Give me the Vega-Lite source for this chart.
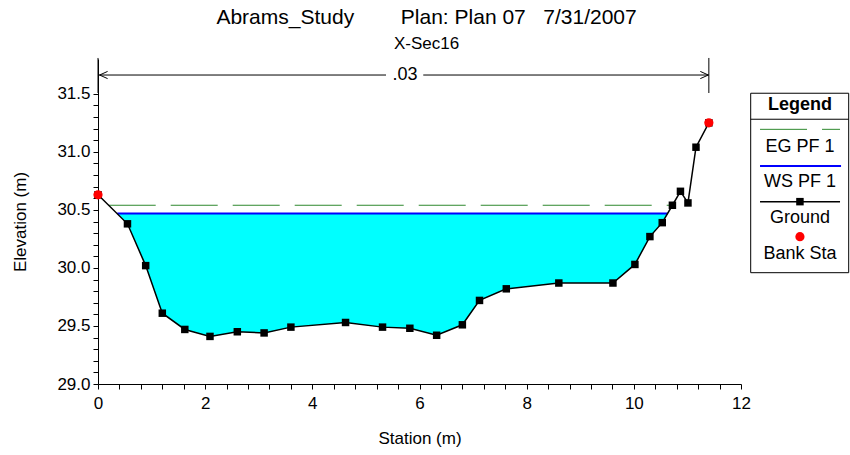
{
  "$schema": "https://vega.github.io/schema/vega-lite/v6.json",
  "width": 643,
  "height": 325,
  "autosize": {"type": "none"},
  "padding": {"left": 98, "top": 59, "right": 109, "bottom": 71},
  "background": "white",
  "config": {
    "view": {"stroke": null},
    "font": "Liberation Sans",
    "text": {"font": "Liberation Sans", "color": "black"}
  },
  "title": {
    "text": "Abrams_Study\u00a0\u00a0\u00a0\u00a0\u00a0\u00a0\u00a0\u00a0Plan: Plan 07\u00a0\u00a0\u00a07/31/2007",
    "subtitle": "X-Sec16",
    "font": "Liberation Sans",
    "subtitleFont": "Liberation Sans",
    "fontSize": 21,
    "subtitleFontSize": 17,
    "fontWeight": "normal",
    "color": "black",
    "subtitleColor": "black",
    "anchor": "middle",
    "frame": "bounds",
    "offset": 2,
    "dy": -3,
    "subtitlePadding": 8,
    "dx": -4
  },
  "datasets": {
    "ground": [
      {"station": 0.0, "elev": 30.63}, {"station": 0.55, "elev": 30.38}, {"station": 0.89, "elev": 30.02},
      {"station": 1.2, "elev": 29.61}, {"station": 1.62, "elev": 29.47}, {"station": 2.09, "elev": 29.41},
      {"station": 2.6, "elev": 29.45}, {"station": 3.1, "elev": 29.44}, {"station": 3.6, "elev": 29.49},
      {"station": 4.62, "elev": 29.53}, {"station": 5.31, "elev": 29.49}, {"station": 5.82, "elev": 29.48},
      {"station": 6.32, "elev": 29.42}, {"station": 6.8, "elev": 29.51}, {"station": 7.12, "elev": 29.72},
      {"station": 7.62, "elev": 29.82}, {"station": 8.6, "elev": 29.87}, {"station": 9.61, "elev": 29.87},
      {"station": 10.02, "elev": 30.03}, {"station": 10.3, "elev": 30.27}, {"station": 10.53, "elev": 30.39},
      {"station": 10.72, "elev": 30.54}, {"station": 10.87, "elev": 30.66}, {"station": 11.01, "elev": 30.56},
      {"station": 11.16, "elev": 31.04}, {"station": 11.4, "elev": 31.25}
    ],
    "water": [
      {"station": 0.36, "elev": 30.47, "ws": 30.47}, {"station": 0.55, "elev": 30.38, "ws": 30.47},
      {"station": 0.89, "elev": 30.02, "ws": 30.47}, {"station": 1.2, "elev": 29.61, "ws": 30.47},
      {"station": 1.62, "elev": 29.47, "ws": 30.47}, {"station": 2.09, "elev": 29.41, "ws": 30.47},
      {"station": 2.6, "elev": 29.45, "ws": 30.47}, {"station": 3.1, "elev": 29.44, "ws": 30.47},
      {"station": 3.6, "elev": 29.49, "ws": 30.47}, {"station": 4.62, "elev": 29.53, "ws": 30.47},
      {"station": 5.31, "elev": 29.49, "ws": 30.47}, {"station": 5.82, "elev": 29.48, "ws": 30.47},
      {"station": 6.32, "elev": 29.42, "ws": 30.47}, {"station": 6.8, "elev": 29.51, "ws": 30.47},
      {"station": 7.12, "elev": 29.72, "ws": 30.47}, {"station": 7.62, "elev": 29.82, "ws": 30.47},
      {"station": 8.6, "elev": 29.87, "ws": 30.47}, {"station": 9.61, "elev": 29.87, "ws": 30.47},
      {"station": 10.02, "elev": 30.03, "ws": 30.47}, {"station": 10.3, "elev": 30.27, "ws": 30.47},
      {"station": 10.53, "elev": 30.39, "ws": 30.47}, {"station": 10.63, "elev": 30.47, "ws": 30.47}
    ],
    "bank": [
      {"station": 0.0, "elev": 30.63, "name": "Left Bank"},
      {"station": 11.4, "elev": 31.25, "name": "Right Bank"}
    ]
  },
  "encoding": {
    "x": {
      "field": "station", "type": "quantitative",
      "scale": {"domain": [0, 12], "nice": false, "zero": false},
      "axis": {
        "title": "Station (m)",
        "values": [0, 0.4, 0.8, 1.2, 1.6, 2, 2.4, 2.8, 3.2, 3.6, 4, 4.4, 4.8, 5.2, 5.6, 6, 6.4, 6.8, 7.2, 7.6, 8, 8.4, 8.8, 9.2, 9.6, 10, 10.4, 10.8, 11.2, 11.6, 12],
        "labelExpr": "datum.value % 2 === 0 ? format(datum.value, 'd') : ''",
        "grid": false, "tickSize": 5, "tickColor": "black", "tickWidth": 1,
        "domainColor": "black", "domainWidth": 1,
        "labelFont": "Liberation Sans", "labelFontSize": 17, "labelColor": "black", "labelPadding": 6,
        "labelOverlap": false, "labelFlush": false,
        "titleFont": "Liberation Sans", "titleFontSize": 17, "titleFontWeight": "normal", "titleColor": "black", "titlePadding": 19
      }
    },
    "y": {
      "field": "elev", "type": "quantitative",
      "scale": {"domain": [29, 31.8], "nice": false, "zero": false},
      "axis": {
        "title": "Elevation (m)",
        "values": [29, 29.1, 29.2, 29.3, 29.4, 29.5, 29.6, 29.7, 29.8, 29.9, 30, 30.1, 30.2, 30.3, 30.4, 30.5, 30.6, 30.7, 30.8, 30.9, 31, 31.1, 31.2, 31.3, 31.4, 31.5],
        "labelExpr": "abs(datum.value * 2 - round(datum.value * 2)) < 0.001 ? format(datum.value, '.1f') : ''",
        "grid": false, "tickSize": 5, "tickColor": "black", "tickWidth": 1,
        "domainColor": "black", "domainWidth": 1,
        "labelFont": "Liberation Sans", "labelFontSize": 17, "labelColor": "black", "labelPadding": 3,
        "labelOverlap": false, "labelFlush": false,
        "titleFont": "Liberation Sans", "titleFontSize": 17, "titleFontWeight": "normal", "titleColor": "black", "titlePadding": 27
      }
    }
  },
  "layer": [
    {
      "data": {"name": "water"},
      "mark": {"type": "area", "color": "#00FFFF", "opacity": 1},
      "encoding": {"y2": {"field": "ws"}}
    },
    {
      "data": {"values": [{"profile": "EG PF 1", "station": 0.2, "station_end": 10.72, "elev": 30.54}]},
      "mark": {"type": "rule", "color": "#2E882E", "strokeWidth": 1, "strokeDash": [47, 15]},
      "encoding": {"x2": {"field": "station_end"}}
    },
    {
      "data": {"values": [{"profile": "WS PF 1", "station": 0.36, "station_end": 10.63, "elev": 30.47}]},
      "mark": {"type": "rule", "color": "#0000FF", "strokeWidth": 2},
      "encoding": {"x2": {"field": "station_end"}}
    },
    {
      "data": {"name": "ground"},
      "mark": {"type": "line", "color": "black", "strokeWidth": 1.5,
               "point": {"shape": "square", "size": 56, "filled": true, "color": "black"}},
      "encoding": {}
    },
    {
      "data": {"name": "bank"},
      "mark": {"type": "point", "shape": "circle", "size": 85, "filled": true, "color": "#FF0000", "opacity": 1},
      "encoding": {}
    },
    {
      "data": {"values": [
        {"station": 0.0, "station_end": 5.375, "elev": 31.662},
        {"station": 6.07, "station_end": 11.4, "elev": 31.662}
      ]},
      "mark": {"type": "rule", "color": "black", "strokeWidth": 1},
      "encoding": {"x2": {"field": "station_end"}}
    },
    {
      "data": {"values": [
        {"station": 0.0, "elev": 31.507, "elev_top": 31.809},
        {"station": 11.4, "elev": 31.507, "elev_top": 31.809}
      ]},
      "mark": {"type": "rule", "color": "black", "strokeWidth": 1},
      "encoding": {"y2": {"field": "elev_top"}}
    },
    {
      "data": {"values": [{"station": 0.03, "elev": 31.662}]},
      "mark": {"type": "point", "shape": "M 2 -0.9 L 0 0 L 2 0.9", "size": 64, "filled": false, "stroke": "black", "strokeWidth": 1, "opacity": 1},
      "encoding": {}
    },
    {
      "data": {"values": [{"station": 11.39, "elev": 31.662}]},
      "mark": {"type": "point", "shape": "M -2 -0.9 L 0 0 L -2 0.9", "size": 64, "filled": false, "stroke": "black", "strokeWidth": 1, "opacity": 1},
      "encoding": {}
    },
    {
      "data": {"values": [{"station": 5.73, "elev": 31.662, "label": ".03"}]},
      "mark": {"type": "text", "fontSize": 18, "align": "center", "baseline": "middle", "color": "black"},
      "encoding": {"text": {"field": "label"}}
    },
    {
      "data": {"values": [{"station": 12.181, "station_end": 14.01, "elev": 29.959, "elev_top": 31.505}]},
      "mark": {"type": "rect", "fill": "white", "stroke": "black", "strokeWidth": 1},
      "encoding": {"x2": {"field": "station_end"}, "y2": {"field": "elev_top"}}
    },
    {
      "data": {"values": [{"station": 12.181, "station_end": 14.01, "elev": 31.281}]},
      "mark": {"type": "rule", "color": "black", "strokeWidth": 1},
      "encoding": {"x2": {"field": "station_end"}}
    },
    {
      "data": {"values": [{"station": 13.1, "elev": 31.404, "label": "Legend"}]},
      "mark": {"type": "text", "fontSize": 18, "fontWeight": "bold", "align": "center", "baseline": "middle", "color": "black"},
      "encoding": {"text": {"field": "label"}}
    },
    {
      "data": {"values": [{"station": 12.355, "station_end": 13.848, "elev": 31.194}]},
      "mark": {"type": "rule", "color": "#2E882E", "strokeWidth": 1, "strokeDash": [47, 15]},
      "encoding": {"x2": {"field": "station_end"}}
    },
    {
      "data": {"values": [{"station": 12.355, "station_end": 13.867, "elev": 30.878}]},
      "mark": {"type": "rule", "color": "#0000FF", "strokeWidth": 2},
      "encoding": {"x2": {"field": "station_end"}}
    },
    {
      "data": {"values": [{"station": 12.355, "station_end": 13.848, "elev": 30.571}]},
      "mark": {"type": "rule", "color": "black", "strokeWidth": 1.5},
      "encoding": {"x2": {"field": "station_end"}}
    },
    {
      "data": {"values": [{"station": 13.1, "elev": 30.571}]},
      "mark": {"type": "point", "shape": "square", "size": 56, "filled": true, "color": "black", "opacity": 1},
      "encoding": {}
    },
    {
      "data": {"values": [{"station": 13.1, "elev": 30.269}]},
      "mark": {"type": "point", "shape": "circle", "size": 85, "filled": true, "color": "#FF0000", "opacity": 1},
      "encoding": {}
    },
    {
      "data": {"values": [
        {"station": 13.1, "elev": 31.039, "label": "EG PF 1"},
        {"station": 13.1, "elev": 30.743, "label": "WS PF 1"},
        {"station": 13.1, "elev": 30.433, "label": "Ground"},
        {"station": 13.1, "elev": 30.117, "label": "Bank Sta"}
      ]},
      "mark": {"type": "text", "fontSize": 18, "align": "center", "baseline": "middle", "color": "black"},
      "encoding": {"text": {"field": "label"}}
    }
  ]
}
